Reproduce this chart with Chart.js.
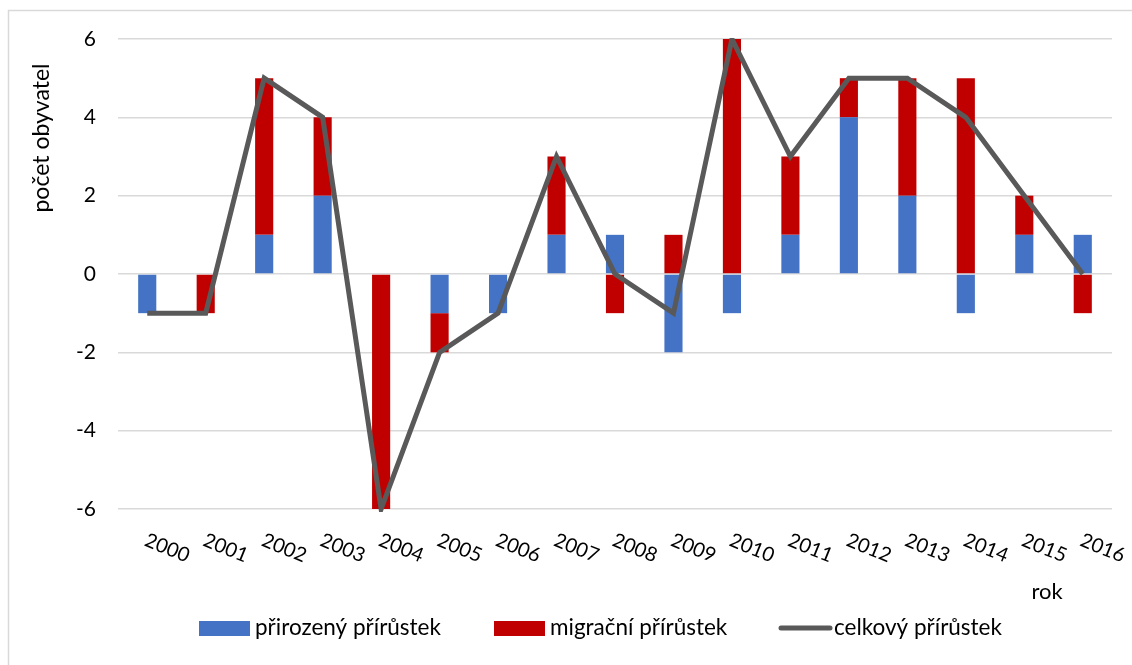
<!DOCTYPE html>
<html>
<head>
<meta charset="utf-8">
<script src="https://cdn.jsdelivr.net/npm/chart.js@4"></script>
<style>
  html, body { margin: 0; padding: 0; background: #fff; }
  #wrap { width: 1132px; height: 665px; position: relative; }
</style>
</head>
<body>
<div id="wrap"><canvas id="chart" width="1132" height="665"></canvas></div>
<script>
// data
const years = ['2000','2001','2002','2003','2004','2005','2006','2007','2008','2009','2010','2011','2012','2013','2014','2015','2016'];
const prirozeny = [-1, 0, 1, 2, 0, -1, -1, 1, 1, -2, -1, 1, 4, 2, -1, 1, 1];
const migracni  = [0, -1, 4, 2, -6, -1, 0, 2, -1, 1, 7, 2, 1, 3, 5, 1, -1];
const celkovy   = [-1, -1, 5, 4, -6, -2, -1, 3, 0, -1, 6, 3, 5, 5, 4, 2, 0];
const yTicks = [-6, -4, -2, 0, 2, 4, 6];

const FONT = 'Lato, "Open Sans", sans-serif';
const BLUE = '#4472c4';
const RED = '#c00000';
const GREY = '#595959';

// slanted year labels, axis titles, legend and frame
const extras = {
    id: 'extras',
    afterDraw(chart) {
        const ctx = chart.ctx;
        const x = chart.scales.x;
        ctx.save();
        ctx.fillStyle = '#000';
        ctx.font = '20px ' + FONT;
        ctx.textAlign = 'center';
        ctx.textBaseline = 'middle';
        years.forEach((yr, i) => {
            const px = x.getPixelForValue(i);
            ctx.save();
            ctx.translate(px + 20, 548);
            ctx.rotate(22 * Math.PI / 180);
            ctx.fillText(yr, 0, 0);
            ctx.restore();
        });

        // axis titles
        ctx.font = '22px ' + FONT;
        ctx.fillText('rok', 1047, 592);
        ctx.save();
        ctx.translate(42, 138);
        ctx.rotate(-Math.PI / 2);
        ctx.font = '23px ' + FONT;
        ctx.fillText('počet obyvatel', 0, 0);
        ctx.restore();

        // legend
        ctx.textAlign = 'left';
        ctx.font = '22.5px ' + FONT;
        ctx.fillStyle = BLUE;
        ctx.fillRect(199, 621, 51, 15);
        ctx.fillStyle = '#000';
        ctx.fillText('přirozený přírůstek', 255, 628);
        ctx.fillStyle = RED;
        ctx.fillRect(494, 621, 51, 15);
        ctx.fillStyle = '#000';
        ctx.fillText('migrační přírůstek', 550, 628);
        ctx.strokeStyle = GREY;
        ctx.lineWidth = 5;
        ctx.lineCap = 'round';
        ctx.beginPath();
        ctx.moveTo(781, 628);
        ctx.lineTo(830, 628);
        ctx.stroke();
        ctx.fillStyle = '#000';
        ctx.fillText('celkový přírůstek', 834, 628);

        // chart frame
        ctx.strokeStyle = '#d9d9d9';
        ctx.lineWidth = 1.5;
        ctx.lineCap = 'butt';
        ctx.strokeRect(8.5, 10.5, 1140, 670);
        ctx.restore();
    }
};

const ctx = document.getElementById('chart').getContext('2d');
const myChart = new Chart(ctx, {
    type: 'bar',
    data: {
        labels: years,
        datasets: [
            {
                type: 'line',
                label: 'celkový přírůstek',
                data: celkovy,
                borderColor: GREY,
                borderWidth: 5,
                pointRadius: 0,
                tension: 0,
                fill: false,
                clip: { left: 6, right: 6, top: 1, bottom: 3 },
                stack: 'line',
                order: 0
            },
            {
                label: 'přirozený přírůstek',
                data: prirozeny,
                backgroundColor: BLUE,
                stack: 'bars',
                order: 1
            },
            {
                label: 'migrační přírůstek',
                data: migracni,
                backgroundColor: RED,
                stack: 'bars',
                order: 1
            }
        ]
    },
    options: {
        responsive: false,
        animation: false,
        devicePixelRatio: 1,
        layout: { padding: { top: 39, right: 20, bottom: 0, left: 0 } },
        datasets: { bar: { categoryPercentage: 1, barPercentage: 0.31 } },
        plugins: {
            legend: { display: false },
            tooltip: { enabled: false }
        },
        scales: {
            x: {
                stacked: true,
                grid: { display: false },
                border: { display: false },
                ticks: { display: false },
                afterFit(scale) { scale.height = 156; }
            },
            y: {
                stacked: true,
                min: -6,
                max: 6,
                afterBuildTicks(scale) { scale.ticks = yTicks.map(v => ({ value: v })); },
                grid: { color: '#d9d9d9', lineWidth: 1.5, drawTicks: false },
                border: { display: false },
                ticks: {
                    padding: 22,
                    color: '#000',
                    font: { family: FONT, size: 21 }
                },
                afterFit(scale) { scale.width = 118; }
            }
        }
    },
    plugins: [extras]
});
</script>
</body>
</html>
